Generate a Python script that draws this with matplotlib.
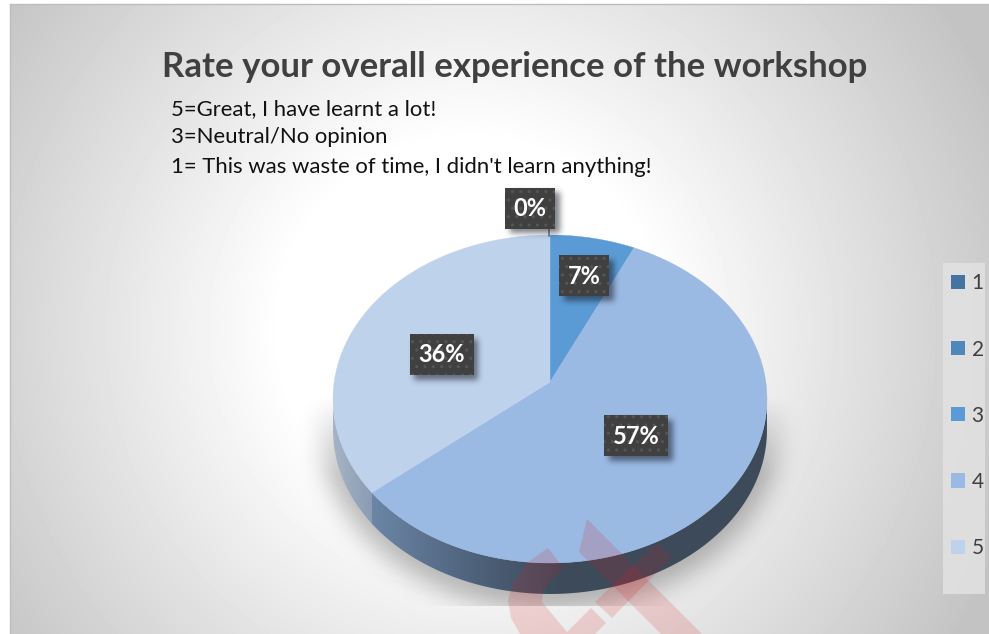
import numpy as np
import matplotlib
matplotlib.use('Agg')
from matplotlib import pyplot as plt
from matplotlib.patches import Polygon, Rectangle

plt.rcParams['font.family'] = ['Lato', 'DejaVu Sans']
plt.rcParams['hatch.linewidth'] = 1.0

# Survey result, share of answers per rating.
ratings = ['1', '2', '3', '4', '5']
shares = [0, 0, 7, 57, 36]
colors = ['#44749f', '#4f87ba', '#5b9bd5', '#9ab9e3', '#bfd2ec']

title = 'Rate your overall experience of the workshop'
notes = ['5=Great, I have learnt a lot!',
         '3=Neutral/No opinion',
         "1= This was waste of time, I didn't learn anything!"]

# Label centres in pixels, rating 1 has no label of its own.
label_xy = [None, (530, 208), (584, 275.5), (636, 435.5), (441.5, 354.5)]

W, H = 989, 634
CX, CY = 550, 382      # pie centre as seen on the page
PERSP = 0.1037         # foreshortening of the far side
RX, RY = 215.8, 162.2
DEPTH = 31


def project(angle):
    # angle in radians, clockwise from twelve o'clock, on a tilted disc
    x, y = np.sin(angle), np.cos(angle)
    w = 1 + PERSP*y
    return CX + RX*x/w, CY - RY*y/w


def blur(img, sigma):
    n = int(3*sigma)
    k = np.exp(-0.5*(np.arange(-n, n+1)/sigma)**2)
    k /= k.sum()
    img = np.apply_along_axis(lambda r: np.convolve(r, k, mode='same'), 0, img)
    return np.apply_along_axis(lambda r: np.convolve(r, k, mode='same'), 1, img)


def shade(alpha, rgb=(0, 0, 0)):
    out = np.zeros(alpha.shape + (4,))
    out[..., :3] = rgb
    out[..., 3] = alpha
    return out


fig = plt.figure(figsize=(W/100, H/100), dpi=100, facecolor='white')
ax = fig.add_axes([0, 0, 1, 1])
ext = (0, W, H, 0)
yy, xx = np.mgrid[0:H, 0:W] + 0.5

# Chart area with its radial fill.
r = np.hypot(xx - 470, yy - 330)
grey = np.interp(r, [0, 190, 570], [255, 255, 196])/255
grey[:, :10] = 1
grey[:4, :] = 1
ax.imshow(grey, cmap='gray', vmin=0, vmax=1, extent=ext, aspect='auto', zorder=0)
ax.plot([10, 10], [4, H], color='#bdbdbd', lw=1, zorder=1)
ax.plot([10, W], [4, 4], color='#bdbdbd', lw=1, zorder=1)

# Soft shadow under the pie, cut off flat at the bottom.
mask = (((xx - 550)/231.0)**2 + ((yy - 425)/185.0)**2 < 1).astype(float)
mask = blur(mask, 12)*np.clip((yy - 395)/80.0, 0, 1)
mask[606:, :] = 0
ax.imshow(shade(mask*0.27), extent=ext, aspect='auto', zorder=2)

# Side wall, lighter under the last slice.
theta = np.linspace(0, 2*np.pi, 721)
px, py = project(theta)
left = px.argmin()
right = px.argmax()
# px peaks on the right before it reaches the left extreme going clockwise
front = theta[right:left+1]
fx, fy = project(front)
outline = np.vstack([np.column_stack([fx, fy + DEPTH]),
                     np.column_stack([fx[::-1], fy[::-1]])])
outline_patch = Polygon(outline, closed=True, transform=ax.transData, fc='none', ec='none')
ax.add_patch(outline_patch)

edge_x = project(2*np.pi*(sum(shares[:4])/100))[0]
cols = np.arange(W)
ramp = np.empty((1, W, 3))
for i, (c0, c1, c2, l0, l1) in enumerate([(0x6b, 0x4f, 0x3c, 0xa6, 0x88),
                                          (0x86, 0x63, 0x4a, 0xb4, 0x9c),
                                          (0xa6, 0x7c, 0x5a, 0xc4, 0xb4)]):
    ramp[0, :, i] = np.where(cols < edge_x,
                             np.interp(cols, [333, edge_x], [l0, l1]),
                             np.interp(cols, [edge_x, 470, 560], [c0, c1, c2]))
wall_img = ax.imshow(ramp/255, extent=ext, aspect='auto', zorder=3)
wall_img.set_clip_path(outline_patch)

# Top face, one wedge per rating.
start = 0.0
for share, color in zip(shares, colors):
    stop = start + share/100
    if share > 0:
        a = np.linspace(start, stop, 200)*2*np.pi
        wx, wy = project(a)
        pts = np.column_stack([np.r_[CX, wx], np.r_[CY, wy]])
        ax.add_patch(Polygon(pts, closed=True, fc=color, ec=color, lw=0.3, zorder=4))
    start = stop

# Faint watermark across the lower edge.
marks = [
    [(548, 548), (564, 569), (550, 581), (543, 592), (542, 602), (567, 632), (591, 608),
     (606, 623), (595, 634), (520, 634), (511, 618), (508, 600), (513, 582), (527, 563)],
    [(587, 519), (702, 634), (661, 634), (579, 552)],
    [(657, 543), (672, 557), (612, 618), (595, 602)],
]
for m in marks:
    ax.add_patch(Polygon(m, closed=True, fc='#d81e1e', ec='none', alpha=0.16, zorder=5))

# Leader line of the empty slice.
ax.plot([549, 549], [229, 236], color='#7f7f7f', lw=1.2, zorder=6)

# Value labels on dark dotted boxes with a drop shadow.
label_boxes = []
box_mask = np.zeros((H, W))
for (x, y), share in ((xy, s) for xy, s in zip(label_xy, shares) if xy is not None):
    half = 25 if share < 10 else 32
    box_mask[int(y - 20.5 + 5):int(y + 20.5 + 5), int(x - half + 5):int(x + half + 5)] = 1
    label_boxes.append((x, y, half, share))
ax.imshow(shade(blur(box_mask, 3)*0.55, (0.08, 0.1, 0.14)), extent=ext, aspect='auto', zorder=7)
for x, y, half, share in label_boxes:
    ax.add_patch(Rectangle((x - half, y - 20.5), 2*half, 41, fc='#404040', ec='#565656',
                           lw=0, hatch='..', zorder=8))
    ax.text(x, y + 0.5, f'{share}%', color='white', fontsize=17, fontweight='bold',
            ha='center', va='center', zorder=9)

# Titles.
ax.text(515, 77, title, color='#404040', fontsize=25, fontweight='bold', ha='center', va='baseline', zorder=9)
for note, y in zip(notes, [115, 143, 173]):
    ax.text(171, y, note, color='#111111', fontsize=15.9, ha='left', va='baseline', zorder=9)

# Legend strip on the right.
ax.add_patch(Rectangle((943, 263), 42, 331, fc='#e2e2e2', ec='none', alpha=0.85, zorder=8))
handles = [Rectangle((0, 0), 1, 1, fc=c, ec='none') for c in colors]
leg = ax.legend(handles, ratings, loc='upper left', bbox_to_anchor=(942/W, 1 - 264/H),
                bbox_transform=fig.transFigure, frameon=False,
                fontsize=15, labelcolor='#404040', handlelength=0.67, handleheight=0.67,
                handletextpad=0.3, labelspacing=2.216, borderpad=0.45, borderaxespad=0)
leg.set_zorder(9)

ax.set_xlim(0, W)
ax.set_ylim(H, 0)
ax.axis('off')

fig.savefig('out.png', dpi=100)
